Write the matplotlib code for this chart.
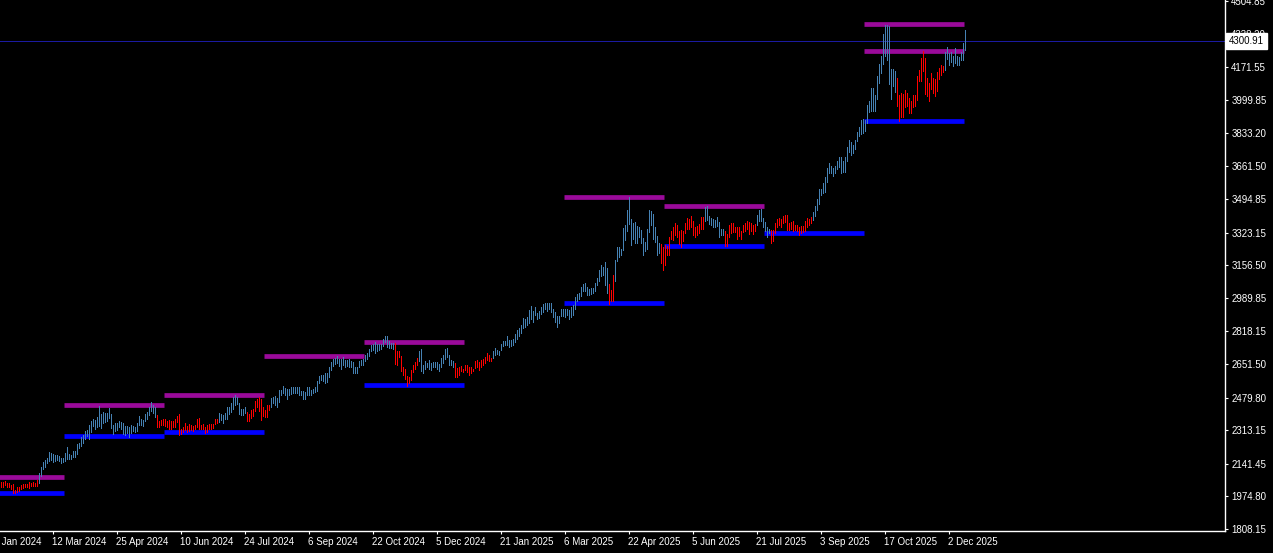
import numpy as np
import matplotlib
matplotlib.use("Agg")
import matplotlib.pyplot as plt
from matplotlib import transforms

plt.rcParams['font.family'] = ['Liberation Sans', 'DejaVu Sans']

# daily bars, Feb 2024 - Dec 2025 (high / low)
highs = [
    2049, 2049, 2054, 2043, 2043, 2033, 2037, 2006, 2021, 2025,
    2031, 2037, 2038, 2040, 2049, 2043, 2047, 2045, 2059, 2093,
    2123, 2151, 2161, 2171, 2202, 2198, 2192, 2188, 2185, 2181,
    2171, 2171, 2198, 2227, 2192, 2188, 2209, 2209, 2243, 2250,
    2277, 2287, 2311, 2314, 2338, 2359, 2369, 2365, 2383, 2437,
    2398, 2406, 2403, 2400, 2427, 2396, 2340, 2348, 2352, 2362,
    2355, 2348, 2335, 2335, 2331, 2338, 2335, 2328, 2352, 2386,
    2369, 2365, 2396, 2406, 2430, 2457, 2444, 2430, 2393, 2359,
    2365, 2369, 2369, 2362, 2365, 2362, 2359, 2369, 2386, 2396,
    2321, 2328, 2348, 2335, 2345, 2338, 2335, 2338, 2372, 2376,
    2342, 2345, 2331, 2338, 2345, 2345, 2345, 2372, 2372, 2403,
    2396, 2389, 2403, 2434, 2430, 2451, 2481, 2492, 2485, 2451,
    2423, 2420, 2434, 2406, 2396, 2417, 2423, 2464, 2471, 2485,
    2475, 2430, 2417, 2440, 2444, 2478, 2485, 2488, 2478, 2519,
    2519, 2539, 2529, 2526, 2526, 2532, 2536, 2532, 2532, 2532,
    2515, 2515, 2509, 2532, 2532, 2519, 2526, 2536, 2567, 2590,
    2594, 2597, 2607, 2604, 2635, 2662, 2676, 2682, 2693, 2679,
    2676, 2686, 2672, 2672, 2676, 2665, 2662, 2635, 2638, 2665,
    2672, 2676, 2696, 2706, 2730, 2751, 2754, 2764, 2754, 2754,
    2754, 2781, 2795, 2795, 2771, 2757, 2761, 2757, 2720, 2717,
    2693, 2638, 2625, 2590, 2584, 2621, 2648, 2662, 2682, 2717,
    2730, 2648, 2665, 2659, 2672, 2659, 2662, 2662, 2662, 2652,
    2682, 2700, 2730, 2734, 2700, 2672, 2665, 2659, 2631, 2635,
    2642, 2628, 2645, 2648, 2638, 2635, 2628, 2665, 2672, 2662,
    2672, 2679, 2689, 2706, 2700, 2682, 2717, 2734, 2723, 2717,
    2754, 2771, 2768, 2795, 2775, 2775, 2778, 2805, 2826, 2836,
    2849, 2887, 2884, 2894, 2928, 2948, 2924, 2942, 2914, 2921,
    2945, 2959, 2962, 2962, 2962, 2962, 2931, 2918, 2897, 2897,
    2935, 2935, 2935, 2931, 2928, 2942, 2955, 2996, 3010, 3013,
    3044, 3061, 3064, 3047, 3037, 3040, 3040, 3068, 3091, 3132,
    3156, 3146, 3173, 3142, 3061, 3030, 3105, 3183, 3248, 3248,
    3238, 3347, 3361, 3439, 3504, 3391, 3374, 3378, 3357, 3354,
    3337, 3296, 3275, 3340, 3439, 3436, 3419, 3354, 3306, 3272,
    3265, 3248, 3262, 3255, 3303, 3333, 3354, 3371, 3361, 3333,
    3337, 3330, 3371, 3398, 3391, 3408, 3384, 3354, 3357, 3367,
    3402, 3402, 3456, 3459, 3408, 3398, 3391, 3388, 3402, 3378,
    3340, 3344, 3333, 3316, 3364, 3371, 3371, 3350, 3350, 3350,
    3333, 3361, 3374, 3384, 3378, 3374, 3364, 3367, 3412, 3439,
    3442, 3398, 3378, 3354, 3340, 3337, 3337, 3371, 3391, 3398,
    3395, 3408, 3415, 3415, 3371, 3378, 3381, 3364, 3361, 3354,
    3357, 3357, 3381, 3398, 3395, 3405, 3429, 3460, 3494, 3548,
    3548, 3579, 3609, 3654, 3681, 3664, 3654, 3664, 3688, 3712,
    3708, 3688, 3712, 3759, 3797, 3787, 3773, 3797, 3838, 3865,
    3899, 3903, 3899, 3974, 3995, 4063, 4063, 4025, 4124, 4185,
    4226, 4339, 4386, 4386, 4380, 4162, 4158, 4151, 4114, 4029,
    4035, 4032, 4052, 4035, 4012, 3998, 4025, 4029, 4124, 4155,
    4216, 4254, 4216, 4114, 4090, 4141, 4114, 4110, 4145, 4165,
    4179, 4175, 4247, 4271, 4243, 4247, 4226, 4267, 4226, 4223,
    4247, 4291, 4359,
]
lows = [
    2021, 2025, 2031, 2025, 2021, 2011, 1994, 1991, 1997, 2003,
    2014, 2020, 2021, 2023, 2020, 2028, 2030, 2028, 2030, 2045,
    2079, 2113, 2127, 2146, 2156, 2161, 2152, 2156, 2159, 2154,
    2147, 2151, 2158, 2168, 2164, 2168, 2175, 2178, 2192, 2222,
    2233, 2250, 2268, 2284, 2270, 2304, 2333, 2321, 2331, 2336,
    2323, 2348, 2355, 2362, 2376, 2325, 2296, 2311, 2314, 2331,
    2318, 2294, 2287, 2297, 2280, 2297, 2311, 2304, 2311, 2342,
    2338, 2335, 2359, 2372, 2389, 2413, 2403, 2383, 2331, 2331,
    2338, 2342, 2335, 2328, 2321, 2318, 2328, 2331, 2355, 2290,
    2294, 2304, 2314, 2304, 2311, 2314, 2311, 2321, 2331, 2321,
    2321, 2321, 2297, 2304, 2321, 2321, 2325, 2345, 2352, 2355,
    2365, 2352, 2369, 2372, 2396, 2406, 2423, 2440, 2447, 2396,
    2389, 2393, 2403, 2359, 2362, 2376, 2386, 2410, 2430, 2410,
    2365, 2386, 2383, 2383, 2417, 2430, 2451, 2444, 2430, 2457,
    2492, 2502, 2495, 2475, 2492, 2498, 2505, 2502, 2502, 2495,
    2495, 2475, 2475, 2492, 2495, 2492, 2502, 2509, 2512, 2556,
    2570, 2567, 2553, 2560, 2587, 2621, 2642, 2652, 2655, 2642,
    2628, 2645, 2638, 2642, 2638, 2638, 2608, 2608, 2608, 2635,
    2645, 2645, 2665, 2679, 2693, 2717, 2723, 2710, 2720, 2723,
    2727, 2744, 2764, 2737, 2734, 2734, 2730, 2652, 2648, 2686,
    2614, 2594, 2573, 2539, 2553, 2570, 2611, 2625, 2648, 2665,
    2618, 2608, 2628, 2635, 2625, 2621, 2638, 2635, 2628, 2618,
    2635, 2655, 2676, 2686, 2648, 2645, 2635, 2587, 2587, 2594,
    2614, 2611, 2621, 2611, 2597, 2608, 2618, 2631, 2635, 2621,
    2638, 2645, 2659, 2672, 2665, 2665, 2682, 2696, 2703, 2696,
    2723, 2744, 2747, 2747, 2737, 2744, 2751, 2764, 2778, 2795,
    2809, 2836, 2843, 2853, 2860, 2880, 2867, 2904, 2880, 2887,
    2907, 2918, 2931, 2921, 2931, 2918, 2894, 2867, 2839, 2863,
    2897, 2897, 2894, 2904, 2880, 2890, 2904, 2935, 2976, 2986,
    2999, 3027, 3027, 3003, 3003, 3010, 3016, 3023, 3054, 3078,
    3102, 3108, 3054, 3016, 2958, 2975, 2975, 3074, 3180, 3197,
    3211, 3235, 3286, 3333, 3367, 3262, 3289, 3269, 3272, 3299,
    3272, 3207, 3228, 3241, 3327, 3361, 3292, 3275, 3211, 3221,
    3170, 3132, 3160, 3211, 3207, 3289, 3286, 3310, 3303, 3265,
    3248, 3279, 3323, 3340, 3344, 3354, 3310, 3299, 3310, 3320,
    3340, 3344, 3384, 3388, 3367, 3364, 3354, 3350, 3357, 3299,
    3310, 3313, 3255, 3255, 3303, 3320, 3327, 3327, 3292, 3306,
    3289, 3327, 3333, 3340, 3316, 3330, 3316, 3333, 3361, 3384,
    3384, 3354, 3333, 3303, 3320, 3269, 3282, 3320, 3354, 3364,
    3354, 3371, 3378, 3337, 3337, 3340, 3330, 3337, 3330, 3313,
    3320, 3327, 3333, 3354, 3363, 3371, 3388, 3408, 3439, 3470,
    3514, 3528, 3531, 3582, 3626, 3626, 3613, 3626, 3650, 3661,
    3630, 3633, 3633, 3688, 3736, 3722, 3729, 3749, 3793, 3817,
    3828, 3831, 3845, 3882, 3940, 3947, 3947, 3947, 4008, 4090,
    4141, 4185, 4226, 4206, 4083, 4008, 4073, 4042, 3971, 3892,
    3916, 3916, 3967, 3971, 3933, 3933, 3967, 3971, 4001, 4100,
    4100, 4148, 4032, 4022, 3998, 4056, 4039, 4022, 4046, 4110,
    4131, 4145, 4155, 4209, 4182, 4196, 4175, 4192, 4179, 4182,
    4206, 4206, 4257,
]

# bars painted red by the range indicator (first, last bar index)
red_spans = [(0, 18), (78, 108), (123, 134), (197, 208), (227, 245),
             (304, 306), (330, 351), (362, 377), (385, 405), (448, 471)]

# 50-bar range levels: (first bar of block, price)
top_levels = [(-18, 2072), (32, 2440), (82, 2491), (132, 2693), (182, 2764),
              (282, 3505), (332, 3459), (432, 4390), (432, 4252)]
bottom_levels = [(-18, 1992), (32, 2284), (82, 2304), (182, 2544),
                 (282, 2964), (332, 3255), (382, 3321), (432, 3894)]
block_len = 50

bid_price = 4300.91

date_ticks = [26, 58, 90, 122, 154, 186, 218, 250, 282, 314, 346, 378, 410, 442, 474]
date_labels = ['12 Mar 2024', '25 Apr 2024', '10 Jun 2024', '24 Jul 2024', '6 Sep 2024',
               '22 Oct 2024', '5 Dec 2024', '21 Jan 2025', '6 Mar 2025', '22 Apr 2025',
               '5 Jun 2025', '21 Jul 2025', '3 Sep 2025', '17 Oct 2025', '2 Dec 2025']
first_tick, first_label = -6, '26 Jan 2024'

price_ticks = [1808.15, 1974.80, 2141.45, 2313.15, 2479.80, 2651.50, 2818.15, 2989.85,
               3156.50, 3323.15, 3494.85, 3661.50, 3833.20, 3999.85, 4171.55, 4338.20, 4504.85]

W, H = 1273, 553
fig = plt.figure(figsize=(W / 100, H / 100), dpi=100, facecolor='black')
ax = fig.add_axes([0, 22 / H, 1225 / W, 531 / H])
ax.set_facecolor('black')

n = len(highs)
idx = np.arange(n)
bar_colors = ['#4682b4'] * n
for a, b in red_spans:
    for i in range(a, b + 1):
        bar_colors[i] = '#ff0000'

ax.axhline(bid_price, color='#1a1aa0', lw=0.7, antialiased=False, zorder=1)

for start, level in top_levels:
    ax.hlines(level, start - 0.5, start + block_len - 0.5, color='#9a0a9a', lw=3.4,
              capstyle='butt', zorder=2)
for start, level in bottom_levels:
    ax.hlines(level, start - 0.5, start + block_len - 0.5, color='#0000ff', lw=3.4,
              capstyle='butt', zorder=2)

ax.vlines(idx, lows, highs, colors=bar_colors, lw=0.6, antialiased=False, zorder=3)

ax.set_xlim(-0.25, 612.25)
ax.set_ylim(1797.9, 4512.5)

# axes styling like the terminal
for side in ['top', 'left']:
    ax.spines[side].set_visible(False)
for side in ['right', 'bottom']:
    ax.spines[side].set_color('white')
    ax.spines[side].set_linewidth(1.0)

ax.yaxis.tick_right()
ax.set_yticks(price_ticks)
ax.set_yticklabels(['%.2f' % p for p in price_ticks])
ax.set_xticks(date_ticks)
ax.set_xticklabels(date_labels, ha='left')
ax.tick_params(axis='both', colors='white', labelcolor='white', labelsize=7,
               length=2.5, width=0.8, direction='out')
ax.tick_params(axis='x', pad=1.5)
ax.tick_params(axis='y', pad=2)

# the first date sits just off the left edge
trans = transforms.offset_copy(ax.get_xaxis_transform(), fig=fig, y=-4.0, units='points')
ax.text(first_tick, 0, first_label, transform=trans, ha='left', va='top',
        color='white', fontsize=7, clip_on=False)

# current price tag on the scale
ax.text(1.0 + 4 / 1225, bid_price, '%.2f' % bid_price, transform=ax.get_yaxis_transform(),
        ha='left', va='center', color='black', fontsize=7, zorder=5, clip_on=False,
        bbox=dict(boxstyle='square,pad=0.3', fc='white', ec='white'))

fig.savefig('out.png', dpi=100, facecolor='black')
